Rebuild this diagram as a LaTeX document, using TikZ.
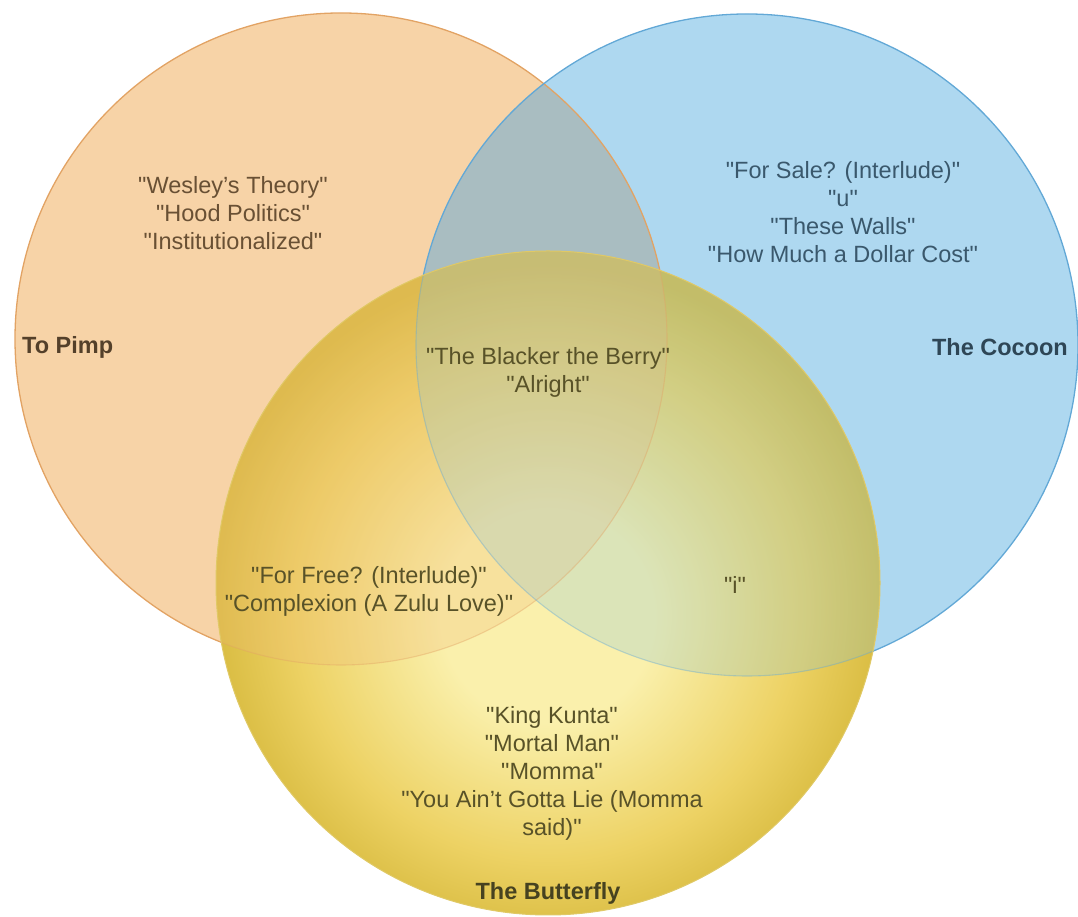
\documentclass[tikz,border=0pt]{standalone}
\usepackage{fontspec}
\setmainfont{Liberation Sans}
\font\songfont="Liberation Sans" at 23.5pt
\definecolor{orfill}{RGB}{247,211,167}
\definecolor{orover}{RGB}{240,185,120}
\definecolor{ordraw}{RGB}{226,163,100}
\definecolor{blfill}{RGB}{174,216,240}
\definecolor{blover}{RGB}{139,198,218}
\definecolor{bldraw}{RGB}{98,168,214}
\definecolor{obfill}{RGB}{169,189,193}
\definecolor{ylight}{RGB}{250,240,172}
\definecolor{ymid}{RGB}{237,210,100}
\definecolor{ydark}{RGB}{216,187,64}
\definecolor{ortext}{RGB}{105,80,52}
\definecolor{bltext}{RGB}{58,88,108}
\definecolor{yetext}{RGB}{88,82,40}
\pgfdeclareradialshading{yshade}{\pgfpoint{0bp}{-3bp}}{color(0bp)=(ylight); color(8bp)=(ylight); color(19bp)=(ymid); color(25.5bp)=(ydark); color(50bp)=(ydark)}
\tikzset{
  songs/.style={font={\fontsize{23.5}{28}\selectfont\songfont}, align=center, inner sep=0pt},
  setlabel/.style={font=\fontsize{23.5}{28}\selectfont\bfseries, inner sep=0pt},
}
\begin{document}
\begin{tikzpicture}[x=1pt,y=1pt]
\useasboundingbox (0,0) rectangle (1078,917);
\coordinate (O) at (341,578);
\coordinate (B) at (747,572);
\coordinate (Y) at (548,334);
% base circles
\fill[orfill] (O) circle[radius=326pt];
\fill[blfill] (B) circle[radius=331pt];
\begin{scope}
  \clip (O) circle[radius=326pt];
  \fill[obfill] (B) circle[radius=331pt];
\end{scope}
\draw[ordraw, line width=1.3pt] (O) circle[radius=326pt];
\draw[bldraw, line width=1.3pt] (B) circle[radius=331pt];
% yellow circle
\shade[shading=yshade] (Y) circle[radius=332pt];
\begin{scope}
  \clip (Y) circle[radius=332pt];
  \fill[orover, opacity=0.27] (O) circle[radius=326pt];
  \fill[blover, opacity=0.27] (B) circle[radius=331pt];
  \draw[ordraw, line width=1.1pt, opacity=0.4] (O) circle[radius=326pt];
  \draw[bldraw, line width=1.1pt, opacity=0.4] (B) circle[radius=331pt];
\end{scope}
\draw[ydark!80!white, line width=1pt] (Y) circle[radius=332pt];
% texts
\node[songs, text=ortext] (orsongs) at (233,704) {"Wesley’s Theory"\\"Hood Politics"\\"Institutionalized"};
\node[setlabel, text=ortext!80!black, anchor=west] (pimp) at (22,570) {To Pimp};
\node[songs, text=bltext] (blsongs) at (843,705) {"For Sale? (Interlude)"\\"u"\\"These Walls"\\"How Much a Dollar Cost"};
\node[setlabel, text=bltext!80!black, anchor=east] (cocoon) at (1068,570) {The Cocoon};
\node[songs, text=yetext] (allsongs) at (548,545) {"The Blacker the Berry"\\"Alright"};
\node[songs, text=yetext] (oysongs) at (369,326) {"For Free? (Interlude)"\\"Complexion (A Zulu Love)"};
\node[songs, text=yetext] (bysongs) at (735,332) {"i"};
\node[songs, text=yetext] (yesongs) at (552,144) {"King Kunta"\\"Mortal Man"\\"Momma"\\"You Ain’t Gotta Lie (Momma\\said)"};
\node[setlabel, text=yetext!80!black] (butterfly) at (548,24) {The Butterfly};
\end{tikzpicture}
\end{document}
